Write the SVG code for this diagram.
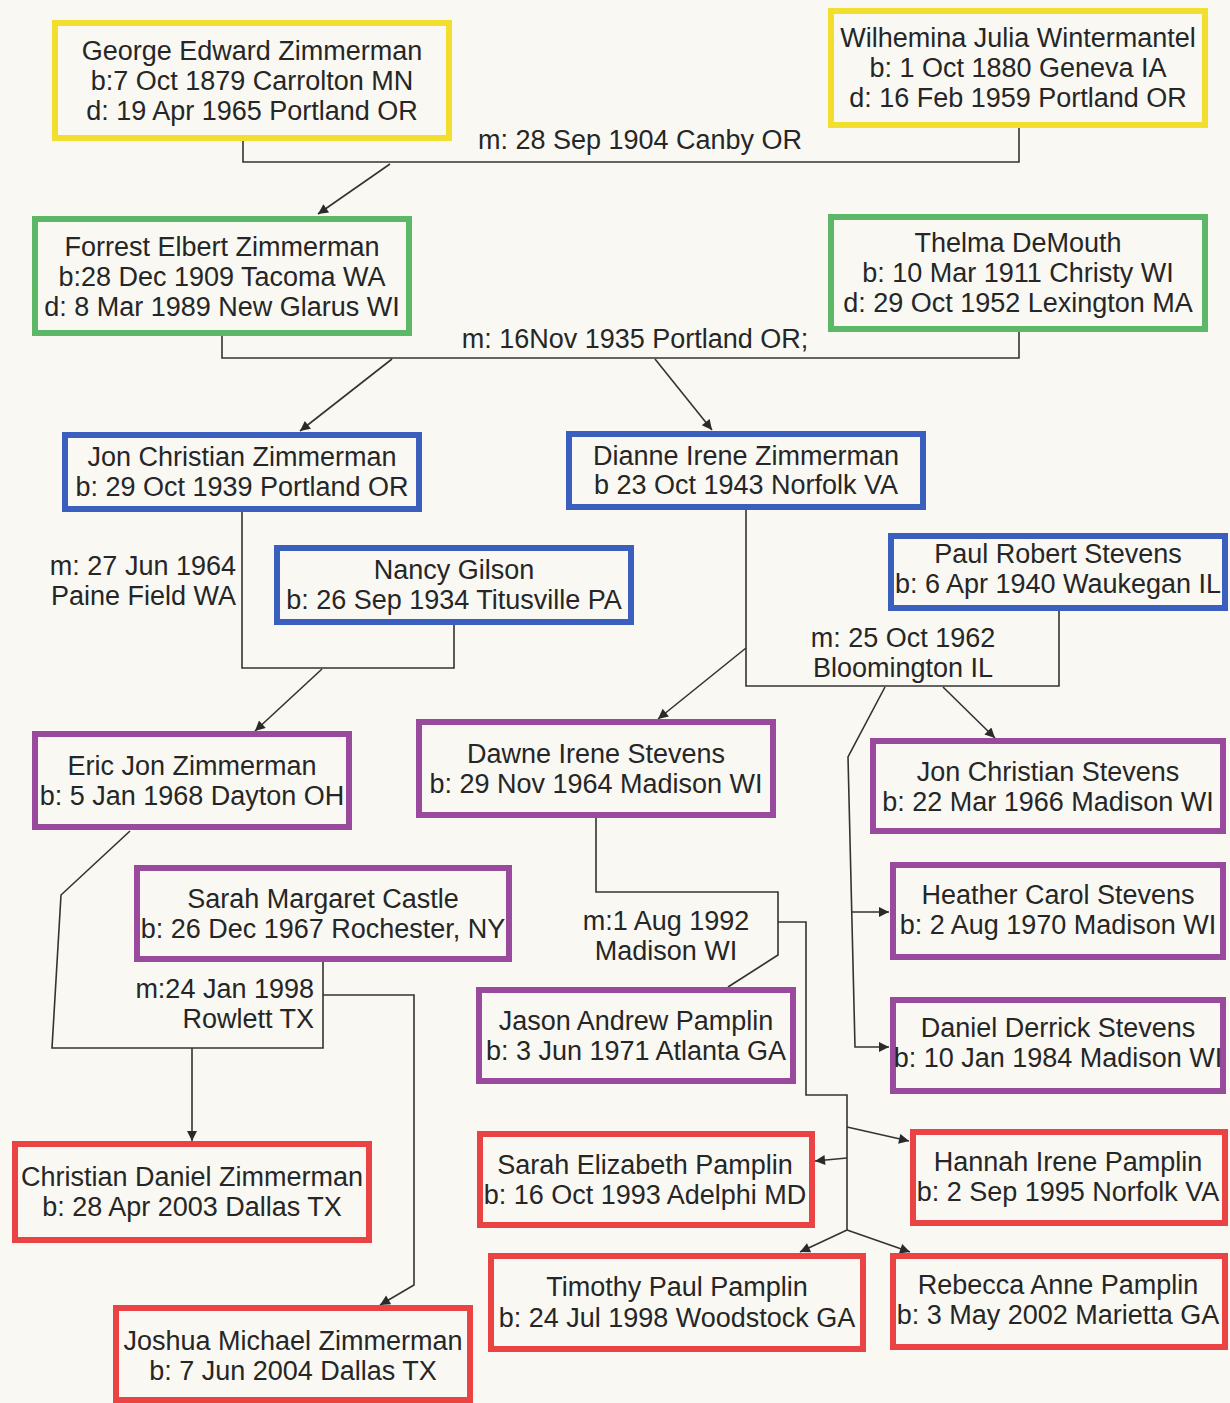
<svg xmlns="http://www.w3.org/2000/svg" width="1230" height="1403" viewBox="0 0 1230 1403">
  <defs>
    <marker id="arrow" viewBox="0 0 10 10" refX="10" refY="5" markerWidth="13" markerHeight="10" markerUnits="userSpaceOnUse" orient="auto">
      <path d="M0,0 L10,5 L0,10 z" fill="#2a2a2a"/>
    </marker>
    <style>
      .box { fill: none; stroke-width: 6; }
      .g1 { stroke: #f2de2e; }
      .g2 { stroke: #5cb866; }
      .g3 { stroke: #3a5fbf; }
      .g4 { stroke: #9a4a9c; }
      .g5 { stroke: #ea4343; }
      text { font-family: "Liberation Sans", Arial, sans-serif; font-size: 27px; fill: #262626; }
      .c { text-anchor: middle; }
      .r { text-anchor: end; }
      .link { fill: none; stroke: #333; stroke-width: 1.6; }
      .arr { fill: none; stroke: #333; stroke-width: 1.6; marker-end: url(#arrow); }
    </style>
  </defs>

  <rect width="1230" height="1403" fill="#f9f8f3"/>

  <!-- connectors -->
  <g id="connectors">
    <path class="link" d="M243,141 V162 H1019 V128"/>
    <path class="arr" d="M390,164 L318,214"/>
    <path class="link" d="M222,336 V358 H1019 V332"/>
    <path class="arr" d="M392,359 L300,431"/>
    <path class="arr" d="M655,359 L712,430"/>
    <path class="link" d="M242,512 V668 H454 V625"/>
    <path class="arr" d="M322,669 L255,731"/>
    <path class="link" d="M746,510 V686 H1059 V611"/>
    <path class="arr" d="M746,648 L658,719"/>
    <path class="arr" d="M943,687 L995,738"/>
    <path class="arr" d="M885,687 L848,757 L855,1047 L889,1047"/>
    <path class="arr" d="M852,912 H889"/>
    <path class="link" d="M130,831 L61,895 L52,1048 H323 V962"/>
    <path class="arr" d="M192,1048 V1141"/>
    <path class="arr" d="M323,995 H414 V1285 L380,1305"/>
    <path class="link" d="M596,818 V892 H778 V955 L728,987"/>
    <path class="link" d="M778,922 H806 V1095 H847 V1230"/>
    <path class="arr" d="M847,1127 L909,1141"/>
    <path class="arr" d="M847,1158 L815,1161"/>
    <path class="arr" d="M847,1230 L800,1252"/>
    <path class="arr" d="M847,1230 L910,1252"/>
  </g>

  <!-- marriage labels -->
  <g id="marriages">
    <text class="c" x="640" y="149">m: 28 Sep 1904 Canby OR</text>
    <text class="c" x="635" y="348">m: 16Nov 1935 Portland OR;</text>
    <text class="r" x="236" y="575">m: 27 Jun 1964</text>
    <text class="r" x="236" y="605">Paine Field WA</text>
    <text class="c" x="903" y="647">m: 25 Oct 1962</text>
    <text class="c" x="903" y="677">Bloomington IL</text>
    <text class="c" x="666" y="930">m:1 Aug 1992</text>
    <text class="c" x="666" y="960">Madison WI</text>
    <text class="r" x="314" y="998">m:24 Jan 1998</text>
    <text class="r" x="314" y="1028">Rowlett TX</text>
  </g>

  <!-- generation 1 -->
  <g id="george">
    <rect class="box g1" x="55" y="23" width="394" height="115"/>
    <text class="c" x="252" y="60">George Edward Zimmerman</text>
    <text class="c" x="252" y="90">b:7 Oct 1879 Carrolton MN</text>
    <text class="c" x="252" y="120">d: 19 Apr 1965 Portland OR</text>
  </g>
  <g id="wilhemina">
    <rect class="box g1" x="831" y="11" width="374" height="114"/>
    <text class="c" x="1018" y="47">Wilhemina Julia Wintermantel</text>
    <text class="c" x="1018" y="77">b: 1 Oct 1880 Geneva IA</text>
    <text class="c" x="1018" y="107">d: 16 Feb 1959 Portland OR</text>
  </g>

  <!-- generation 2 -->
  <g id="forrest">
    <rect class="box g2" x="35" y="219" width="374" height="114"/>
    <text class="c" x="222" y="256">Forrest Elbert Zimmerman</text>
    <text class="c" x="222" y="286">b:28 Dec 1909 Tacoma WA</text>
    <text class="c" x="222" y="316">d: 8 Mar 1989 New Glarus WI</text>
  </g>
  <g id="thelma">
    <rect class="box g2" x="831" y="217" width="374" height="112"/>
    <text class="c" x="1018" y="252">Thelma DeMouth</text>
    <text class="c" x="1018" y="282">b: 10 Mar 1911 Christy WI</text>
    <text class="c" x="1018" y="312">d: 29 Oct 1952 Lexington MA</text>
  </g>

  <!-- generation 3 -->
  <g id="jon-zimmerman">
    <rect class="box g3" x="65" y="435" width="354" height="74"/>
    <text class="c" x="242" y="466">Jon Christian Zimmerman</text>
    <text class="c" x="242" y="496">b: 29 Oct 1939 Portland OR</text>
  </g>
  <g id="dianne">
    <rect class="box g3" x="569" y="434" width="354" height="73"/>
    <text class="c" x="746" y="465">Dianne Irene Zimmerman</text>
    <text class="c" x="746" y="494">b 23 Oct 1943 Norfolk VA</text>
  </g>
  <g id="nancy">
    <rect class="box g3" x="277" y="548" width="354" height="74"/>
    <text class="c" x="454" y="579">Nancy Gilson</text>
    <text class="c" x="454" y="609">b: 26 Sep 1934 Titusville PA</text>
  </g>
  <g id="paul">
    <rect class="box g3" x="891" y="536" width="334" height="72"/>
    <text class="c" x="1058" y="563">Paul Robert Stevens</text>
    <text class="c" x="1058" y="593">b: 6 Apr 1940 Waukegan IL</text>
  </g>

  <!-- generation 4 -->
  <g id="eric">
    <rect class="box g4" x="35" y="734" width="314" height="93"/>
    <text class="c" x="192" y="775">Eric Jon Zimmerman</text>
    <text class="c" x="192" y="805">b: 5 Jan 1968 Dayton OH</text>
  </g>
  <g id="dawne">
    <rect class="box g4" x="419" y="722" width="354" height="93"/>
    <text class="c" x="596" y="763">Dawne Irene Stevens</text>
    <text class="c" x="596" y="793">b: 29 Nov 1964 Madison WI</text>
  </g>
  <g id="jon-stevens">
    <rect class="box g4" x="873" y="741" width="350" height="90"/>
    <text class="c" x="1048" y="781">Jon Christian Stevens</text>
    <text class="c" x="1048" y="811">b: 22 Mar 1966 Madison WI</text>
  </g>
  <g id="sarah-castle">
    <rect class="box g4" x="137" y="868" width="372" height="91"/>
    <text class="c" x="323" y="908">Sarah Margaret Castle</text>
    <text class="c" x="323" y="938">b: 26 Dec 1967 Rochester, NY</text>
  </g>
  <g id="heather">
    <rect class="box g4" x="893" y="865" width="330" height="92"/>
    <text class="c" x="1058" y="904">Heather Carol Stevens</text>
    <text class="c" x="1058" y="934">b: 2 Aug 1970 Madison WI</text>
  </g>
  <g id="jason">
    <rect class="box g4" x="479" y="990" width="314" height="91"/>
    <text class="c" x="636" y="1030">Jason Andrew Pamplin</text>
    <text class="c" x="636" y="1060">b: 3 Jun 1971 Atlanta GA</text>
  </g>
  <g id="daniel">
    <rect class="box g4" x="893" y="1000" width="330" height="91"/>
    <text class="c" x="1058" y="1037">Daniel Derrick Stevens</text>
    <text class="c" x="1058" y="1067">b: 10 Jan 1984 Madison WI</text>
  </g>

  <!-- generation 5 -->
  <g id="christian">
    <rect class="box g5" x="15" y="1144" width="354" height="96"/>
    <text class="c" x="192" y="1186">Christian Daniel Zimmerman</text>
    <text class="c" x="192" y="1216">b: 28 Apr 2003 Dallas TX</text>
  </g>
  <g id="sarah-pamplin">
    <rect class="box g5" x="480" y="1134" width="332" height="91"/>
    <text class="c" x="645" y="1174">Sarah Elizabeth Pamplin</text>
    <text class="c" x="645" y="1204">b: 16 Oct 1993 Adelphi MD</text>
  </g>
  <g id="hannah">
    <rect class="box g5" x="913" y="1132" width="312" height="91"/>
    <text class="c" x="1068" y="1171">Hannah Irene Pamplin</text>
    <text class="c" x="1068" y="1201">b: 2 Sep 1995 Norfolk VA</text>
  </g>
  <g id="timothy">
    <rect class="box g5" x="491" y="1256" width="372" height="93"/>
    <text class="c" x="677" y="1296">Timothy Paul Pamplin</text>
    <text class="c" x="677" y="1327">b: 24 Jul 1998 Woodstock GA</text>
  </g>
  <g id="rebecca">
    <rect class="box g5" x="893" y="1256" width="332" height="91"/>
    <text class="c" x="1058" y="1294">Rebecca Anne Pamplin</text>
    <text class="c" x="1058" y="1324">b: 3 May 2002 Marietta GA</text>
  </g>
  <g id="joshua">
    <rect class="box g5" x="116" y="1308" width="354" height="92"/>
    <text class="c" x="293" y="1350">Joshua Michael Zimmerman</text>
    <text class="c" x="293" y="1380">b: 7 Jun 2004 Dallas TX</text>
  </g>
</svg>
